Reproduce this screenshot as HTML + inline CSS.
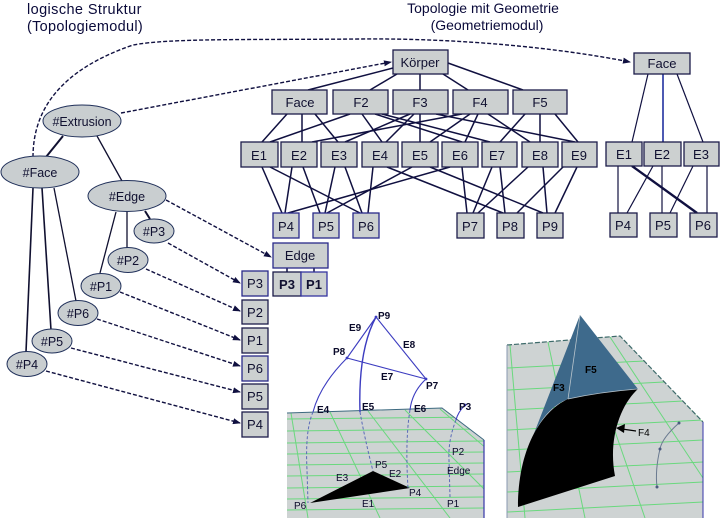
<!DOCTYPE html>
<html><head><meta charset="utf-8"><style>
html,body{margin:0;padding:0;background:#fff;}
svg{display:block;}
text{font-family:"Liberation Sans",sans-serif;}
</style></head><body>
<svg width="721" height="518" viewBox="0 0 721 518" xmlns="http://www.w3.org/2000/svg">
<defs>
<marker id="ah" markerWidth="8" markerHeight="8" refX="7" refY="4" orient="auto" markerUnits="userSpaceOnUse">
<path d="M0,1 L8,4 L0,7 Z" fill="#101040"/>
</marker>
<clipPath id="pl1"><polygon points="287,413 442,408 484,440 484,518 287,518"/></clipPath>
<clipPath id="pl2"><polygon points="507,345 620,336 703,422 703,518 507,518"/></clipPath>
</defs>
<rect width="721" height="518" fill="#fff"/>

<!-- titles -->
<g fill="#0a0a3a" font-size="14">
<text x="27" y="14" font-size="14.5" letter-spacing="0.4">logische Struktur</text>
<text x="27" y="31" font-size="14.5" letter-spacing="0.3">(Topologiemodul)</text>
<text x="483" y="13" text-anchor="middle">Topologie mit Geometrie</text>
<text x="487" y="30" text-anchor="middle">(Geometriemodul)</text>
</g>

<!-- dashed connectors -->
<g fill="none" stroke="#101040" stroke-width="1.4" stroke-dasharray="4,2">
<path d="M33,157 C33,110 60,70 133,45 C170,38 250,40 360,39 C460,38 560,48 630,62" marker-end="url(#ah)"/>
<path d="M121,113 L391,62" marker-end="url(#ah)"/>
<path d="M166,200 L271,257" marker-end="url(#ah)"/>
<path d="M168,243 L240,283" marker-end="url(#ah)"/>
<path d="M146,269 L240,311" marker-end="url(#ah)"/>
<path d="M120,292 L240,340" marker-end="url(#ah)"/>
<path d="M97,319 L240,366" marker-end="url(#ah)"/>
<path d="M71,348 L240,392" marker-end="url(#ah)"/>
<path d="M46,371 L240,423" marker-end="url(#ah)"/>
</g>

<!-- left tree solid lines -->
<g stroke="#101030" stroke-width="1.3" fill="none">
<line x1="63" y1="136" x2="46" y2="157" stroke-width="2"/>
<line x1="97" y1="136" x2="122" y2="181"/>
<line x1="33" y1="188" x2="26" y2="352" stroke-width="1.6"/>
<line x1="42" y1="188" x2="51" y2="330" stroke-width="1.6"/>
<line x1="54" y1="188" x2="76" y2="301"/>
<line x1="116" y1="212" x2="100" y2="273"/>
<line x1="127" y1="212" x2="127" y2="248"/>
<line x1="145" y1="211" x2="150" y2="219" stroke-width="2"/>
</g>

<!-- ellipses -->
<g fill="#c9ced0" stroke="#20305a" stroke-width="1">
<ellipse cx="82" cy="121" rx="39" ry="16"/>
<ellipse cx="40" cy="172" rx="39" ry="16"/>
<ellipse cx="127" cy="196" rx="39" ry="15.5"/>
<ellipse cx="154" cy="231" rx="20" ry="12"/>
<ellipse cx="128" cy="260" rx="20" ry="12.5"/>
<ellipse cx="101" cy="286" rx="20" ry="12.5"/>
<ellipse cx="78" cy="313" rx="20" ry="12.5"/>
<ellipse cx="52" cy="341" rx="20" ry="12"/>
<ellipse cx="27" cy="364" rx="20" ry="12.5"/>
</g>
<g fill="#101030" font-size="12.5" text-anchor="middle">
<text x="82" y="126">#Extrusion</text>
<text x="40" y="177">#Face</text>
<text x="127" y="201">#Edge</text>
<text x="154" y="236">#P3</text>
<text x="128" y="265">#P2</text>
<text x="101" y="291">#P1</text>
<text x="78" y="318">#P6</text>
<text x="52" y="346">#P5</text>
<text x="27" y="369">#P4</text>
</g>

<!-- topology graph lines -->
<g stroke="#101040" stroke-width="1.5" fill="none">
<line x1="393" y1="68" x2="308" y2="90"/>
<line x1="397" y1="74" x2="370" y2="90"/>
<line x1="420" y1="74" x2="420" y2="90"/>
<line x1="443" y1="74" x2="468" y2="90"/>
<line x1="448" y1="63" x2="523" y2="90"/>
<line x1="287" y1="114" x2="262" y2="142"/>
<line x1="302" y1="114" x2="302" y2="142"/>
<line x1="315" y1="114" x2="338" y2="142"/>
<line x1="350" y1="114" x2="270" y2="142"/>
<line x1="362" y1="114" x2="382" y2="142"/>
<line x1="375" y1="114" x2="462" y2="142"/>
<line x1="382" y1="114" x2="490" y2="142"/>
<line x1="410" y1="114" x2="345" y2="142"/>
<line x1="414" y1="114" x2="386" y2="142"/>
<line x1="420" y1="114" x2="420" y2="142"/>
<line x1="436" y1="114" x2="575" y2="142"/>
<line x1="462" y1="114" x2="312" y2="142"/>
<line x1="470" y1="114" x2="430" y2="142"/>
<line x1="478" y1="114" x2="465" y2="142"/>
<line x1="488" y1="114" x2="530" y2="142"/>
<line x1="525" y1="114" x2="500" y2="142"/>
<line x1="540" y1="114" x2="540" y2="142"/>
<line x1="555" y1="114" x2="578" y2="142"/>
<line x1="262" y1="167" x2="282" y2="213"/>
<line x1="270" y1="167" x2="360" y2="213"/>
<line x1="292" y1="167" x2="285" y2="213"/>
<line x1="303" y1="167" x2="320" y2="213"/>
<line x1="335" y1="167" x2="325" y2="213"/>
<line x1="345" y1="167" x2="362" y2="213"/>
<line x1="373" y1="167" x2="368" y2="213"/>
<line x1="387" y1="167" x2="503" y2="213"/>
<line x1="412" y1="167" x2="327" y2="213"/>
<line x1="430" y1="167" x2="543" y2="213"/>
<line x1="450" y1="167" x2="288" y2="213"/>
<line x1="462" y1="167" x2="467" y2="213"/>
<line x1="492" y1="167" x2="473" y2="213"/>
<line x1="500" y1="167" x2="505" y2="213"/>
<line x1="528" y1="167" x2="478" y2="213"/>
<line x1="543" y1="167" x2="547" y2="213"/>
<line x1="563" y1="167" x2="517" y2="213"/>
<line x1="577" y1="167" x2="555" y2="213"/>
<line x1="648" y1="74" x2="632" y2="142" stroke-width="1.2"/>
<line x1="663" y1="74" x2="663" y2="142" stroke="#2030a0" stroke-width="1.6"/>
<line x1="677" y1="74" x2="703" y2="142" stroke-width="1.2"/>
<line x1="618" y1="166" x2="618" y2="213" stroke-width="1.2"/>
<line x1="632" y1="166" x2="697" y2="213" stroke-width="2.4"/>
<line x1="653" y1="166" x2="627" y2="213" stroke-width="1.2"/>
<line x1="662" y1="166" x2="662" y2="213" stroke-width="1.2"/>
<line x1="693" y1="166" x2="670" y2="213" stroke-width="1.2"/>
<line x1="707" y1="166" x2="707" y2="213" stroke-width="1.2"/>
<line x1="287" y1="268" x2="287" y2="272"/>
<line x1="314" y1="268" x2="314" y2="272"/>
</g>

<!-- boxes -->
<g fill="#ccd0d0" stroke="#1c1c4a" stroke-width="1.3">
<rect x="393" y="50" width="55" height="24"/>
<rect x="272" y="90" width="55" height="24"/>
<rect x="333" y="90" width="55" height="24"/>
<rect x="393" y="90" width="55" height="24"/>
<rect x="453" y="90" width="55" height="24"/>
<rect x="513" y="90" width="54" height="24"/>
<rect x="241" y="142" width="37" height="25"/>
<rect x="281" y="142" width="36" height="25"/>
<rect x="321" y="142" width="36" height="25"/>
<rect x="362" y="142" width="36" height="25"/>
<rect x="402" y="142" width="36" height="25"/>
<rect x="442" y="142" width="36" height="25"/>
<rect x="482" y="142" width="35" height="25"/>
<rect x="522" y="142" width="36" height="25"/>
<rect x="562" y="142" width="35" height="25"/>
<rect x="273" y="213" width="26" height="25" stroke="#2a2a8a"/>
<rect x="313" y="213" width="26" height="25" stroke="#2a2a8a"/>
<rect x="353" y="213" width="26" height="25" stroke="#2a2a8a"/>
<rect x="457" y="213" width="27" height="25"/>
<rect x="497" y="213" width="27" height="25"/>
<rect x="537" y="213" width="26" height="25"/>
<rect x="634" y="53" width="56" height="21"/>
<rect x="606" y="142" width="36" height="24"/>
<rect x="644" y="142" width="37" height="24"/>
<rect x="684" y="142" width="35" height="24"/>
<rect x="610" y="213" width="27" height="24"/>
<rect x="650" y="213" width="27" height="24"/>
<rect x="690" y="213" width="27" height="24"/>
<rect x="273" y="243" width="55" height="25" stroke="#2a2a8a"/>
<rect x="273" y="272" width="28" height="24"/>
<rect x="301" y="272" width="26" height="24" stroke="#3535a0"/>
<rect x="242" y="271" width="26" height="25" stroke="#2a2a8a"/>
<rect x="242" y="300" width="26" height="24"/>
<rect x="242" y="328" width="26" height="25"/>
<rect x="242" y="356" width="26" height="25" stroke="#2a2a8a"/>
<rect x="242" y="384" width="26" height="25"/>
<rect x="242" y="412" width="26" height="25"/>
</g>
<g fill="#101030" font-size="13" text-anchor="middle">
<text x="420" y="67">Körper</text>
<text x="300" y="107">Face</text>
<text x="361" y="107">F2</text>
<text x="420" y="107">F3</text>
<text x="480" y="107">F4</text>
<text x="540" y="107">F5</text>
<text x="259" y="160">E1</text>
<text x="299" y="160">E2</text>
<text x="339" y="160">E3</text>
<text x="380" y="160">E4</text>
<text x="420" y="160">E5</text>
<text x="460" y="160">E6</text>
<text x="497" y="160">E7</text>
<text x="540" y="160">E8</text>
<text x="579" y="160">E9</text>
<text x="286" y="231">P4</text>
<text x="326" y="231">P5</text>
<text x="366" y="231">P6</text>
<text x="470" y="231">P7</text>
<text x="510" y="231">P8</text>
<text x="550" y="231">P9</text>
<text x="662" y="68">Face</text>
<text x="624" y="159">E1</text>
<text x="662" y="159">E2</text>
<text x="701" y="159">E3</text>
<text x="623" y="230">P4</text>
<text x="663" y="230">P5</text>
<text x="703" y="230">P6</text>
<text x="300" y="260">Edge</text>
<text x="287" y="289" font-weight="bold">P3</text>
<text x="314" y="289" font-weight="bold">P1</text>
<text x="255" y="288">P3</text>
<text x="255" y="317">P2</text>
<text x="255" y="345">P1</text>
<text x="255" y="373">P6</text>
<text x="255" y="401">P5</text>
<text x="255" y="429">P4</text>
</g>

<!-- left 3D render -->
<polygon points="287,413 442,408 484,440 484,518 287,518" fill="#ced3d3"/>
<g clip-path="url(#pl1)" stroke="#6ad87e" stroke-width="1" fill="none">
<line x1="287" y1="419" x2="484" y2="417"/>
<line x1="287" y1="431" x2="484" y2="429"/>
<line x1="287" y1="443" x2="484" y2="441"/>
<line x1="287" y1="454" x2="484" y2="452"/>
<line x1="287" y1="465" x2="484" y2="463"/>
<line x1="287" y1="476" x2="484" y2="474"/>
<line x1="287" y1="488" x2="484" y2="486"/>
<line x1="287" y1="499" x2="484" y2="497"/>
<line x1="287" y1="510" x2="484" y2="508"/>
<line x1="291" y1="413" x2="308" y2="518"/>
<line x1="330" y1="412" x2="380" y2="518"/>
<line x1="368" y1="411" x2="450" y2="518"/>
<line x1="405" y1="410" x2="500" y2="505"/>
<line x1="440" y1="409" x2="500" y2="460"/>
</g>
<polyline points="287,413 442,408 484,440" fill="none" stroke="#3d6a80" stroke-width="1"/>
<line x1="484" y1="440" x2="484" y2="518" stroke="#3535a8" stroke-width="1.2"/>
<polygon points="373,471 410,488 310,503" fill="#000"/>
<g stroke="#3c3cc0" stroke-width="1.1" fill="none">
<line x1="376" y1="317" x2="347" y2="358"/>
<line x1="376" y1="317" x2="426" y2="379"/>
<line x1="347" y1="358" x2="426" y2="379"/>
<path d="M347,358 Q320,385 313,412"/>
<path d="M376,317 Q358,350 360,412" stroke-width="1.4"/>
<path d="M426,379 Q412,392 410,410"/>
<path d="M465,405 Q458,412 456,420"/>
</g>
<g stroke="#5a6ab8" stroke-width="1" fill="none" stroke-dasharray="3,2">
<path d="M313,412 Q305,430 307,470 L308,503"/>
<path d="M360,412 Q365,440 373,471"/>
<path d="M410,410 Q405,440 408,488"/>
<path d="M456,420 Q448,440 449,460 L450,497"/>
</g>
<g fill="#3c3cc0"><circle cx="376" cy="317" r="1.4"/><circle cx="347" cy="358" r="1.4"/><circle cx="426" cy="379" r="1.4"/><circle cx="465" cy="405" r="1.4"/></g>
<g fill="#0a0a2a" font-size="10" font-weight="bold">
<text x="378" y="319">P9</text>
<text x="349" y="331">E9</text>
<text x="333" y="355">P8</text>
<text x="403" y="348">E8</text>
<text x="381" y="380">E7</text>
<text x="426" y="389">P7</text>
<text x="317" y="413">E4</text>
<text x="362" y="410">E5</text>
<text x="414" y="412">E6</text>
<text x="459" y="410">P3</text>
<text x="452" y="455" font-weight="normal">P2</text>
<text x="447" y="474" font-weight="normal">Edge</text>
<text x="447" y="507" font-weight="normal">P1</text>
<text x="375" y="468" font-weight="normal">P5</text>
<text x="389" y="477" font-weight="normal">E2</text>
<text x="336" y="481" font-weight="normal">E3</text>
<text x="409" y="496" font-weight="normal">P4</text>
<text x="362" y="507" font-weight="normal">E1</text>
<text x="294" y="509" font-weight="normal">P6</text>
</g>

<!-- right 3D render -->
<polygon points="507,345 620,336 703,422 703,518 507,518" fill="#ced3d3"/>
<g clip-path="url(#pl2)" stroke="#6ad87e" stroke-width="1" fill="none">
<line x1="507" y1="368" x2="703" y2="358"/>
<line x1="507" y1="390" x2="703" y2="380"/>
<line x1="507" y1="410" x2="703" y2="400"/>
<line x1="507" y1="430" x2="703" y2="420"/>
<line x1="507" y1="450" x2="703" y2="440"/>
<line x1="507" y1="472" x2="703" y2="462"/>
<line x1="507" y1="492" x2="703" y2="482"/>
<line x1="507" y1="512" x2="703" y2="502"/>
<line x1="510" y1="345" x2="525" y2="518"/>
<line x1="548" y1="342" x2="585" y2="518"/>
<line x1="583" y1="339" x2="645" y2="518"/>
<line x1="610" y1="337" x2="703" y2="478"/>
<line x1="640" y1="355" x2="720" y2="440"/>
</g>
<polyline points="507,345 620,336 703,422" fill="none" stroke="#3d6a6a" stroke-width="1.2" stroke-dasharray="5,2"/>
<line x1="507" y1="345" x2="507" y2="518" stroke="#8a9ab0" stroke-width="1"/>
<line x1="703" y1="422" x2="703" y2="518" stroke="#3535a8" stroke-width="1"/>
<path d="M580,315 L568,399 C552,405 540,420 533,436 Z" fill="#3d6889"/>
<path d="M580,315 L638,389 Q600,392 568,399 Z" fill="#3e6a8c"/>
<path d="M568,399 Q600,392 638,389 C620,405 608,440 615,476 L518,507 C518,450 540,412 568,399 Z" fill="#000"/>
<line x1="580" y1="315" x2="568" y2="399" stroke="#b8c4cc" stroke-width="0.8"/>
<path d="M568,399 Q600,392 638,389" fill="none" stroke="#b8c4cc" stroke-width="0.8"/>
<path d="M679,423 Q662,438 660,449 Q655,470 657,487" fill="none" stroke="#6a7a90" stroke-width="1"/>
<g fill="#4a5a80"><circle cx="679" cy="423" r="1.5"/><circle cx="660" cy="449" r="1.5"/><circle cx="657" cy="487" r="1.5"/></g>
<line x1="636" y1="431" x2="622" y2="429" stroke="#000" stroke-width="1.2"/>
<path d="M616,428 L625,424 L624,433 Z" fill="#000"/>
<g fill="#000" font-size="10" font-weight="bold">
<text x="585" y="373">F5</text>
<text x="553" y="391">F3</text>
<text x="638" y="436" font-weight="normal">F4</text>
</g>
</svg>
</body></html>
